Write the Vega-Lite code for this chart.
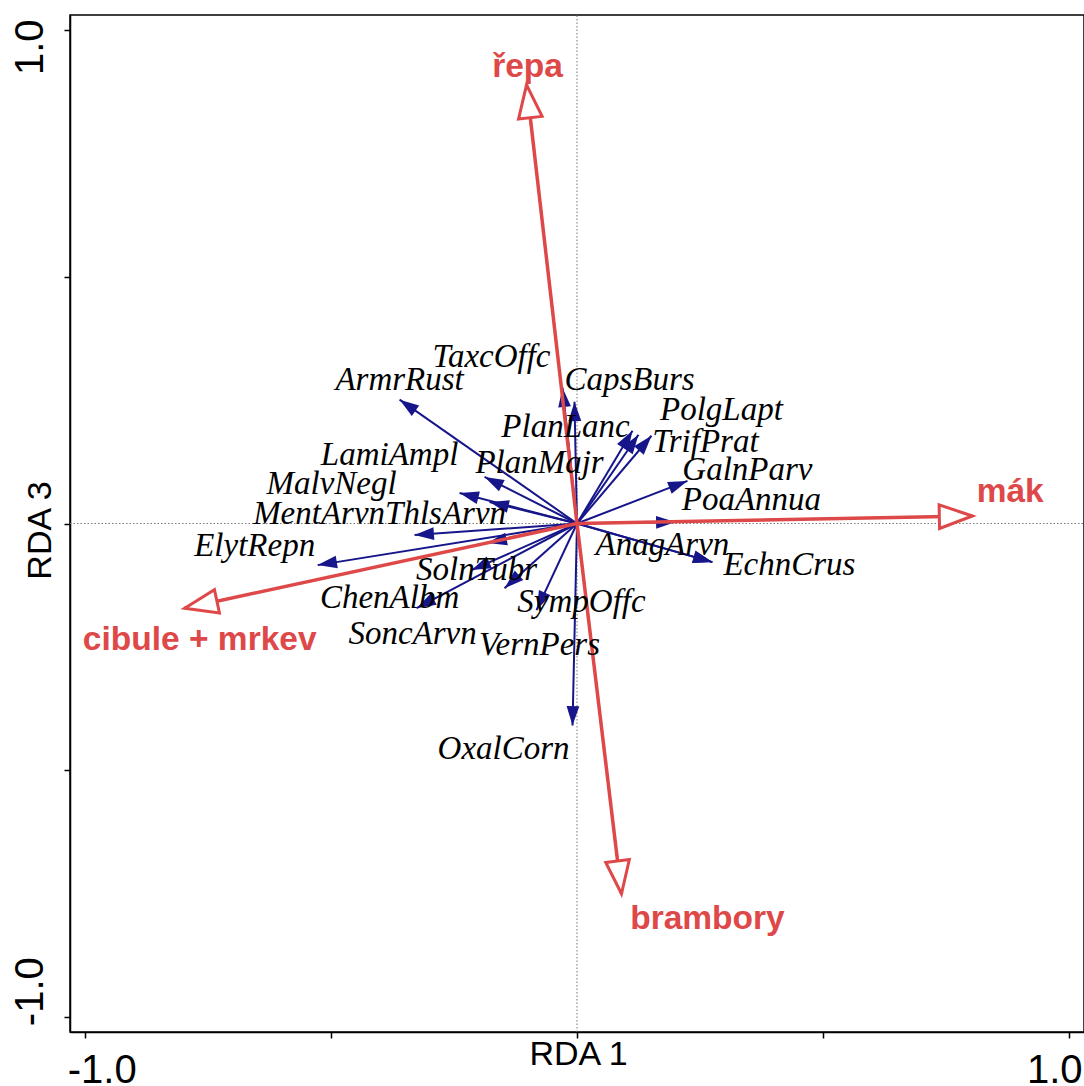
{
  "$schema": "https://vega.github.io/schema/vega-lite/v6.json",
  "width": 1014,
  "height": 1017,
  "autosize": {"type": "none"},
  "padding": {"left": 70, "top": 15, "right": 0, "bottom": 54},
  "background": "white",
  "config": {
    "view": {"stroke": "black", "strokeWidth": 1.5},
    "axis": {
      "grid": false, "domainColor": "black", "domainWidth": 1.5, "tickColor": "black", "tickSize": 6, "tickWidth": 1.5,
      "labelFont": "Liberation Sans", "labelFontSize": 40, "labelColor": "black",
      "labelFlush": false, "labelOverlap": false, "labelBound": false,
      "titleFont": "Liberation Sans", "titleFontSize": 34, "titleFontWeight": "normal", "titleColor": "black"
    }
  },
  "datasets": {
    "sp": [
      {"label": "ArmrRust", "x": -0.3604, "y": 0.2508, "lx": -0.3604, "ly": 0.2914},
      {"label": "TaxcOffc", "x": -0.0294, "y": 0.2751, "lx": -0.1736, "ly": 0.338},
      {"label": "CapsBurs", "x": -0.0051, "y": 0.2467, "lx": 0.1066, "ly": 0.2914},
      {"label": "PlanLanc", "x": 0.1127, "y": 0.1878, "lx": -0.0234, "ly": 0.1959},
      {"label": "PolgLapt", "x": 0.1249, "y": 0.1797, "lx": 0.2934, "ly": 0.2305},
      {"label": "TrifPrat", "x": 0.1513, "y": 0.1777, "lx": 0.2609, "ly": 0.1655},
      {"label": "PlanMajr", "x": -0.1878, "y": 0.0944, "lx": -0.0761, "ly": 0.1228},
      {"label": "LamiAmpl", "x": -0.2386, "y": 0.0619, "lx": -0.3807, "ly": 0.1391},
      {"label": "MalvNegl", "x": -0.1777, "y": 0.0437, "lx": -0.4985, "ly": 0.0802},
      {"label": "MentArvnThlsArvn", "x": -0.33, "y": -0.0234, "lx": -0.401, "ly": 0.0193},
      {"label": "GalnParv", "x": 0.2244, "y": 0.0863, "lx": 0.3462, "ly": 0.1086},
      {"label": "PoaAnnua", "x": 0.2, "y": 0.003, "lx": 0.3543, "ly": 0.0477},
      {"label": "AnagArvn", "x": 0.2751, "y": -0.0782, "lx": 0.1736, "ly": -0.0437},
      {"label": "EchnCrus", "x": 0.2751, "y": -0.0782, "lx": 0.4315, "ly": -0.0843},
      {"label": "ElytRepn", "x": -0.5269, "y": -0.0843, "lx": -0.6548, "ly": -0.0457},
      {"label": "SoncArvn", "x": -0.1817, "y": -0.0396, "lx": -0.334, "ly": -0.2244},
      {"label": "SolnTubr", "x": -0.2142, "y": -0.0944, "lx": -0.2041, "ly": -0.0944},
      {"label": "VernPers", "x": -0.1472, "y": -0.131, "lx": -0.0761, "ly": -0.2467},
      {"label": "SympOffc", "x": -0.0822, "y": -0.1756, "lx": 0.0091, "ly": -0.1594},
      {"label": "ChenAlbm", "x": -0.3259, "y": -0.1716, "lx": -0.3807, "ly": -0.1513},
      {"label": "OxalCorn", "x": -0.0091, "y": -0.4091, "lx": -0.1492, "ly": -0.4558}
    ],
    "env": [
      {"label": "řepa", "x": -0.1025, "y": 0.8883, "lx": -0.1005, "ly": 0.925},
      {"label": "mák", "x": 0.8031, "y": 0.0152, "lx": 0.88, "ly": 0.064},
      {"label": "cibule + mrkev", "x": -0.797, "y": -0.1716, "lx": -0.7665, "ly": -0.2365},
      {"label": "brambory", "x": 0.0904, "y": -0.75, "lx": 0.265, "ly": -0.801}
    ]
  },
  "layer": [
    {
      "data": {"values": [{}]},
      "mark": {"type": "rule", "color": "#777777", "strokeWidth": 1, "strokeDash": [1.5, 2]},
      "encoding": {
        "x": {"datum": 0, "type": "quantitative", "scale": {"domain": [-1.03, 1.03], "nice": false, "zero": false},
          "axis": {"title": "RDA 1", "values": [-1, -0.5, 0, 0.5, 1], "labelExpr": "datum.value == 1 ? '1.0' : (datum.value == -1 ? '-1.0' : '')", "labelBaseline": "alphabetic", "labelAlign": "center", "labelPadding": 44, "labelOffset": {"condition": {"test": "datum.value < 0", "value": 17}, "value": -15}, "titleX": 508, "titleY": 32, "titleBaseline": "alphabetic", "titleAlign": "center"}},
        "y": {"datum": -1.03, "type": "quantitative", "scale": {"domain": [-1.03, 1.03], "nice": false, "zero": false},
          "axis": {"title": "RDA 3", "values": [-1, -0.5, 0, 0.5, 1], "labelExpr": "datum.value == 1 ? '1.0' : (datum.value == -1 ? '-1.0' : '')", "labelAngle": -90, "labelBaseline": "alphabetic", "labelAlign": "center", "labelPadding": 22, "labelOffset": {"condition": {"test": "datum.value > 0", "value": 17}, "value": -26}, "titleAngle": -90, "titleX": -20, "titleY": 515, "titleBaseline": "alphabetic", "titleAlign": "center"}},
        "y2": {"datum": 1.03}
      }
    },
    {
      "data": {"values": [{}]},
      "mark": {"type": "rule", "color": "#777777", "strokeWidth": 1, "strokeDash": [1.5, 2]},
      "encoding": {
        "x": {"datum": -1.03, "type": "quantitative", "scale": {"domain": [-1.03, 1.03], "nice": false, "zero": false},
          "axis": {"title": "RDA 1", "values": [-1, -0.5, 0, 0.5, 1], "labelExpr": "datum.value == 1 ? '1.0' : (datum.value == -1 ? '-1.0' : '')", "labelBaseline": "alphabetic", "labelAlign": "center", "labelPadding": 44, "labelOffset": {"condition": {"test": "datum.value < 0", "value": 17}, "value": -15}, "titleX": 508, "titleY": 32, "titleBaseline": "alphabetic", "titleAlign": "center"}},
        "y": {"datum": 0, "type": "quantitative", "scale": {"domain": [-1.03, 1.03], "nice": false, "zero": false},
          "axis": {"title": "RDA 3", "values": [-1, -0.5, 0, 0.5, 1], "labelExpr": "datum.value == 1 ? '1.0' : (datum.value == -1 ? '-1.0' : '')", "labelAngle": -90, "labelBaseline": "alphabetic", "labelAlign": "center", "labelPadding": 22, "labelOffset": {"condition": {"test": "datum.value > 0", "value": 17}, "value": -26}, "titleAngle": -90, "titleX": -20, "titleY": 515, "titleBaseline": "alphabetic", "titleAlign": "center"}},
        "x2": {"datum": 1.03}
      }
    },
    {
      "data": {"name": "sp"},
      "layer": [
        {
          "mark": {"type": "rule", "color": "#16168a", "strokeWidth": 2},
          "encoding": {"x2": {"datum": 0}, "y2": {"datum": 0}}
        },
        {
          "transform": [{"calculate": "atan2(datum.x, datum.y) * 180 / PI", "as": "ang"}],
          "mark": {"type": "point", "shape": "M0,0L-0.33,1L0.33,1Z", "filled": true, "color": "#16168a", "size": 1500, "opacity": 1, "strokeWidth": 0},
          "encoding": {"angle": {"field": "ang", "type": "quantitative", "scale": null}}
        }
      ],
      "encoding": {
        "x": {"field": "x", "type": "quantitative", "scale": {"domain": [-1.03, 1.03], "nice": false, "zero": false},
          "axis": {"title": "RDA 1", "values": [-1, -0.5, 0, 0.5, 1], "labelExpr": "datum.value == 1 ? '1.0' : (datum.value == -1 ? '-1.0' : '')", "labelBaseline": "alphabetic", "labelAlign": "center", "labelPadding": 44, "labelOffset": {"condition": {"test": "datum.value < 0", "value": 17}, "value": -15}, "titleX": 508, "titleY": 32, "titleBaseline": "alphabetic", "titleAlign": "center"}},
        "y": {"field": "y", "type": "quantitative", "scale": {"domain": [-1.03, 1.03], "nice": false, "zero": false},
          "axis": {"title": "RDA 3", "values": [-1, -0.5, 0, 0.5, 1], "labelExpr": "datum.value == 1 ? '1.0' : (datum.value == -1 ? '-1.0' : '')", "labelAngle": -90, "labelBaseline": "alphabetic", "labelAlign": "center", "labelPadding": 22, "labelOffset": {"condition": {"test": "datum.value > 0", "value": 17}, "value": -26}, "titleAngle": -90, "titleX": -20, "titleY": 515, "titleBaseline": "alphabetic", "titleAlign": "center"}}
      }
    },
    {
      "data": {"name": "env"},
      "layer": [
        {
          "mark": {"type": "rule", "color": "#de4848", "strokeWidth": 3.5},
          "encoding": {"x2": {"datum": 0}, "y2": {"datum": 0}}
        },
        {
          "transform": [{"calculate": "atan2(datum.x, datum.y) * 180 / PI", "as": "ang"}],
          "mark": {"type": "point", "shape": "M0,0L-0.36,1L0.36,1Z", "filled": false, "fill": "white", "fillOpacity": 1, "stroke": "#de4848", "strokeWidth": 3, "size": 4356, "opacity": 1},
          "encoding": {"angle": {"field": "ang", "type": "quantitative", "scale": null}}
        }
      ],
      "encoding": {
        "x": {"field": "x", "type": "quantitative", "scale": {"domain": [-1.03, 1.03], "nice": false, "zero": false},
          "axis": {"title": "RDA 1", "values": [-1, -0.5, 0, 0.5, 1], "labelExpr": "datum.value == 1 ? '1.0' : (datum.value == -1 ? '-1.0' : '')", "labelBaseline": "alphabetic", "labelAlign": "center", "labelPadding": 44, "labelOffset": {"condition": {"test": "datum.value < 0", "value": 17}, "value": -15}, "titleX": 508, "titleY": 32, "titleBaseline": "alphabetic", "titleAlign": "center"}},
        "y": {"field": "y", "type": "quantitative", "scale": {"domain": [-1.03, 1.03], "nice": false, "zero": false},
          "axis": {"title": "RDA 3", "values": [-1, -0.5, 0, 0.5, 1], "labelExpr": "datum.value == 1 ? '1.0' : (datum.value == -1 ? '-1.0' : '')", "labelAngle": -90, "labelBaseline": "alphabetic", "labelAlign": "center", "labelPadding": 22, "labelOffset": {"condition": {"test": "datum.value > 0", "value": 17}, "value": -26}, "titleAngle": -90, "titleX": -20, "titleY": 515, "titleBaseline": "alphabetic", "titleAlign": "center"}}
      }
    },
    {
      "data": {"name": "sp"},
      "mark": {"type": "text", "font": "Liberation Serif", "fontStyle": "italic", "fontSize": 33, "color": "black", "align": "center", "baseline": "middle"},
      "encoding": {
        "x": {"field": "lx", "type": "quantitative", "scale": {"domain": [-1.03, 1.03], "nice": false, "zero": false},
          "axis": {"title": "RDA 1", "values": [-1, -0.5, 0, 0.5, 1], "labelExpr": "datum.value == 1 ? '1.0' : (datum.value == -1 ? '-1.0' : '')", "labelBaseline": "alphabetic", "labelAlign": "center", "labelPadding": 44, "labelOffset": {"condition": {"test": "datum.value < 0", "value": 17}, "value": -15}, "titleX": 508, "titleY": 32, "titleBaseline": "alphabetic", "titleAlign": "center"}},
        "y": {"field": "ly", "type": "quantitative", "scale": {"domain": [-1.03, 1.03], "nice": false, "zero": false},
          "axis": {"title": "RDA 3", "values": [-1, -0.5, 0, 0.5, 1], "labelExpr": "datum.value == 1 ? '1.0' : (datum.value == -1 ? '-1.0' : '')", "labelAngle": -90, "labelBaseline": "alphabetic", "labelAlign": "center", "labelPadding": 22, "labelOffset": {"condition": {"test": "datum.value > 0", "value": 17}, "value": -26}, "titleAngle": -90, "titleX": -20, "titleY": 515, "titleBaseline": "alphabetic", "titleAlign": "center"}},
        "text": {"field": "label"}
      }
    },
    {
      "data": {"name": "env"},
      "mark": {"type": "text", "font": "Liberation Sans", "fontWeight": "bold", "fontSize": 33.5, "color": "#de4848", "align": "center", "baseline": "middle"},
      "encoding": {
        "x": {"field": "lx", "type": "quantitative", "scale": {"domain": [-1.03, 1.03], "nice": false, "zero": false},
          "axis": {"title": "RDA 1", "values": [-1, -0.5, 0, 0.5, 1], "labelExpr": "datum.value == 1 ? '1.0' : (datum.value == -1 ? '-1.0' : '')", "labelBaseline": "alphabetic", "labelAlign": "center", "labelPadding": 44, "labelOffset": {"condition": {"test": "datum.value < 0", "value": 17}, "value": -15}, "titleX": 508, "titleY": 32, "titleBaseline": "alphabetic", "titleAlign": "center"}},
        "y": {"field": "ly", "type": "quantitative", "scale": {"domain": [-1.03, 1.03], "nice": false, "zero": false},
          "axis": {"title": "RDA 3", "values": [-1, -0.5, 0, 0.5, 1], "labelExpr": "datum.value == 1 ? '1.0' : (datum.value == -1 ? '-1.0' : '')", "labelAngle": -90, "labelBaseline": "alphabetic", "labelAlign": "center", "labelPadding": 22, "labelOffset": {"condition": {"test": "datum.value > 0", "value": 17}, "value": -26}, "titleAngle": -90, "titleX": -20, "titleY": 515, "titleBaseline": "alphabetic", "titleAlign": "center"}},
        "text": {"field": "label"}
      }
    }
  ]
}
